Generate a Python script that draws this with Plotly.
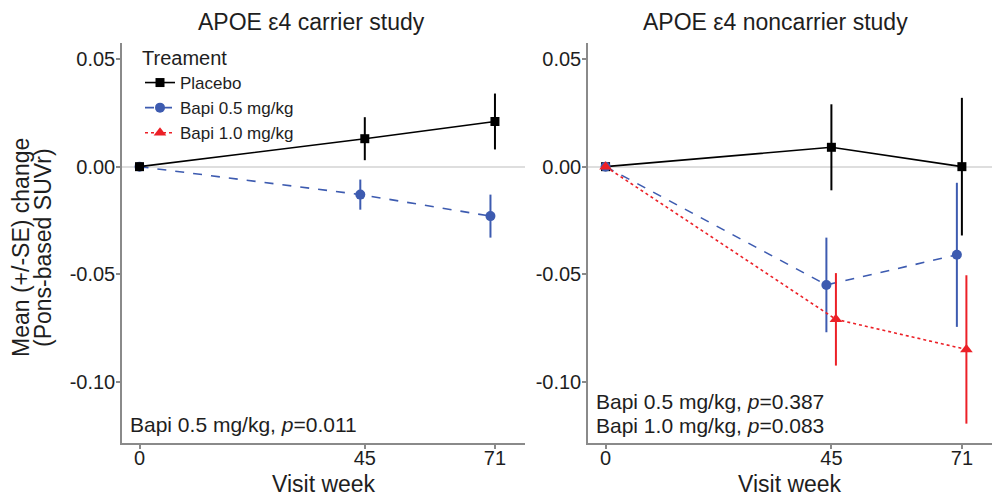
import plotly.graph_objects as go

# ---- data ----
weeks = [0, 45, 71]
x_ticks = [0, 45, 71]
y_ticks = [0.05, 0.00, -0.05, -0.10]
y_tick_labels = ["0.05", "0.00", "-0.05", "-0.10"]

carrier_placebo = [0.0, 0.013, 0.021]
carrier_placebo_se = [0.0, 0.010, 0.013]
carrier_bapi05 = [0.0, -0.013, -0.023]
carrier_bapi05_se = [0.0, 0.007, 0.010]

noncarrier_placebo = [0.0, 0.009, 0.000]
noncarrier_placebo_se = [0.0, 0.020, 0.032]
noncarrier_bapi05 = [0.0, -0.055, -0.041]
noncarrier_bapi05_se = [0.0, 0.022, 0.0335]
noncarrier_bapi10 = [0.0, -0.071, -0.085]
noncarrier_bapi10_se = [0.0, 0.0215, 0.0345]

series_names = ["Placebo", "Bapi 0.5 mg/kg", "Bapi 1.0 mg/kg"]
panel_titles = ["APOE ε4 carrier study", "APOE ε4 noncarrier study"]
x_title = "Visit week"
y_title_lines = ["Mean (+/-SE) change", "(Pons-based SUVr)"]
carrier_note = ["Bapi 0.5 mg/kg, <i>p</i>=0.011"]
noncarrier_note = ["Bapi 0.5 mg/kg, <i>p</i>=0.387", "Bapi 1.0 mg/kg, <i>p</i>=0.083"]

# ---- styles ----
FONT = "Liberation Sans, Arial, Helvetica, sans-serif"
TXT = "#1e1e1e"
BLACK = "#000000"
BLUE = "#3D5BB0"
RED = "#EC2027"
AXC = "#8a8a8a"
styles = {
    "Placebo": dict(color=BLACK, symbol="square", size=9, dash="solid"),
    "Bapi 0.5 mg/kg": dict(color=BLUE, symbol="circle", size=10, dash="dash"),
    "Bapi 1.0 mg/kg": dict(color=RED, symbol="triangle-up", size=11, dash="dot"),
}


def dodge(xs, off):
    return [x + off if x > 0 else x for x in xs]


fig = go.Figure()


def add(name, xs, ys, se, xaxis, yaxis, off, showlegend):
    st = styles[name]
    fig.add_trace(go.Scatter(
        x=dodge(xs, off), y=ys, name=name, legendgroup=name, showlegend=showlegend,
        mode="lines+markers", xaxis=xaxis, yaxis=yaxis,
        line=dict(color=st["color"], width=1.6, dash=st["dash"]),
        marker=dict(color=st["color"], symbol=st["symbol"], size=st["size"]),
        error_y=dict(type="data", array=se, visible=True, color=st["color"],
                     thickness=2, width=0),
    ))


# left panel
add("Bapi 0.5 mg/kg", weeks, carrier_bapi05, carrier_bapi05_se, "x", "y", -0.9, False)
add("Placebo", weeks, carrier_placebo, carrier_placebo_se, "x", "y", 0.0, False)
# right panel
add("Placebo", weeks, noncarrier_placebo, noncarrier_placebo_se, "x2", "y2", 0.0, True)
add("Bapi 0.5 mg/kg", weeks, noncarrier_bapi05, noncarrier_bapi05_se, "x2", "y2", -1.0, True)
add("Bapi 1.0 mg/kg", weeks, noncarrier_bapi10, noncarrier_bapi10_se, "x2", "y2", 0.9, True)

W, H = 992, 498
xd1 = [122 / W, 525 / W]
xd2 = [588 / W, 1.0]
yd = [1 - 443 / H, 1 - 43 / H]

xcommon = dict(range=[-3.5, 77], tickvals=x_ticks, ticktext=[str(t) for t in x_ticks],
               showline=True, linecolor=AXC, linewidth=1.5, mirror=False,
               ticks="outside", ticklen=4, tickcolor=AXC, tickwidth=1.5,
               showgrid=False, zeroline=False, ticklabelstandoff=-8,
               tickfont=dict(family=FONT, size=20, color=TXT),
               automargin=False)
ycommon = dict(range=[-0.1285, 0.0575], tickvals=y_ticks, ticktext=y_tick_labels,
               showline=True, linecolor=AXC, linewidth=1.5, mirror=False,
               ticks="outside", ticklen=4, tickcolor=AXC, tickwidth=1.5,
               showgrid=False, zeroline=True, zerolinecolor="#dedede", zerolinewidth=1.5,
               ticklabelstandoff=-3,
               tickfont=dict(family=FONT, size=20, color=TXT),
               automargin=False)

fig.update_layout(
    width=W, height=H,
    margin=dict(l=0, r=0, t=0, b=0),
    paper_bgcolor="white", plot_bgcolor="white",
    font=dict(family=FONT, color=TXT),
    xaxis=dict(domain=xd1, anchor="y", **xcommon),
    yaxis=dict(domain=yd, anchor="x", **ycommon),
    xaxis2=dict(domain=xd2, anchor="y2", **xcommon),
    yaxis2=dict(domain=yd, anchor="x2", **ycommon),
    legend=dict(x=140 / W, y=1 - 39 / H, xanchor="left", yanchor="top",
                bgcolor="rgba(0,0,0,0)", itemwidth=30, tracegroupgap=0,
                font=dict(family=FONT, size=17, color=TXT),
                title=dict(text="Treament", font=dict(family=FONT, size=20, color=TXT))),
    showlegend=True,
)

ann = []
# panel titles
for txt, cx in zip(panel_titles, [311, 775]):
    ann.append(dict(text=txt, x=cx / W, y=1 - 22 / H, xref="paper", yref="paper",
                    xanchor="center", yanchor="middle", showarrow=False,
                    font=dict(family=FONT, size=23, color=TXT)))
# x axis titles
for cx in [324, 790]:
    ann.append(dict(text=x_title, x=cx / W, y=1 - 484 / H, xref="paper", yref="paper",
                    xanchor="center", yanchor="middle", showarrow=False,
                    font=dict(family=FONT, size=23, color=TXT)))
# y axis title (two lines)
for txt, cx in zip(y_title_lines, [21, 43]):
    ann.append(dict(text=txt, x=cx / W, y=1 - 248 / H, xref="paper", yref="paper",
                    xanchor="center", yanchor="middle", showarrow=False, textangle=-90,
                    font=dict(family=FONT, size=23, color=TXT)))
# p-value notes
for txt, cy in zip(carrier_note, [424]):
    ann.append(dict(text=txt, x=128 / W, y=1 - cy / H, xref="paper", yref="paper",
                    xanchor="left", yanchor="middle", showarrow=False,
                    font=dict(family=FONT, size=21, color=TXT)))
for txt, cy in zip(noncarrier_note, [401, 425]):
    ann.append(dict(text=txt, x=594 / W, y=1 - cy / H, xref="paper", yref="paper",
                    xanchor="left", yanchor="middle", showarrow=False,
                    font=dict(family=FONT, size=21, color=TXT)))
fig.update_layout(annotations=ann)

fig.write_html("out.html")
